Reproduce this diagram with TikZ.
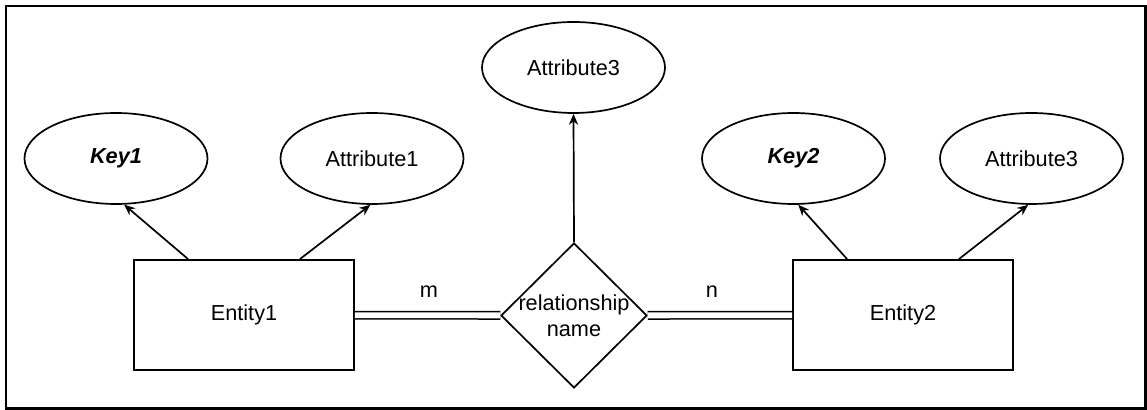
\documentclass[tikz,border=0pt]{standalone}
\usepackage{fontspec}
\setmainfont{Liberation Sans}
\usetikzlibrary{shapes.geometric,arrows.meta}

\begin{document}
\begin{tikzpicture}[x=0.5pt, y=-0.5pt,
                        every node/.style={font=\fontsize{10.85}{13}\selectfont},
                        attr/.style={draw, ellipse, line width=0.85pt, minimum width=91.5pt, minimum height=45.5pt, inner sep=0pt},
                        entity/.style={draw, rectangle, line width=0.85pt, minimum width=110pt, minimum height=55pt, inner sep=0pt},
                        rel/.style={draw, diamond, line width=0.85pt, minimum width=73pt, minimum height=72.5pt, inner sep=0pt, align=center},
                        link/.style={double, line width=0.75pt, double distance=2.9pt},
                        >={Stealth[length=5.5pt, width=4.6pt]}]
                        \useasboundingbox (0, 0) rectangle (1147, 410);
                        \draw [line width=1.2pt] (6, 6) rectangle (1145.5, 408.5);

                        \node [entity] (E1) at (244, 315) {Entity1};
                        \node [entity] (E2) at (903, 315) {Entity2};
                        \node [rel] (R) at (574, 315.5) {\makebox[0pt]{relationship}\\\makebox[0pt]{name}};

                        \node [attr] (K1) at (116, 158.5) {\textbf{\textit{Key1}}};
                        \node [attr] (A1) at (372, 158.5) {Attribute1};
                        \node [attr] (A3) at (573.5, 67.5) {Attribute3};
                        \node [attr] (K2) at (793.5, 158.5) {\textbf{\textit{Key2}}};
                        \node [attr] (A4) at (1031.5, 158.5) {Attribute3};

                        %\node (0) at (574, 315) {$+$};

                        \node (m) at (429, 292) {m};
                        \node (n) at (712, 292) {n};

                        \draw [link] (E1) -- (R);
                        \draw [link] (R) -- (E2);

                        \draw [->, line width=0.85pt] (E1.135) -- (K1.-80);
                        \draw [->, line width=0.85pt] (E1.45) -- (A1.-92);
                        \draw [->, line width=0.85pt] (R.north) -- (A3.south);
                        \draw [->, line width=0.85pt] (E2.135) -- (K2.-84);
                        \draw [->, line width=0.85pt] (E2.45) -- (A4.-94);
                    \end{tikzpicture}
\end{document}
